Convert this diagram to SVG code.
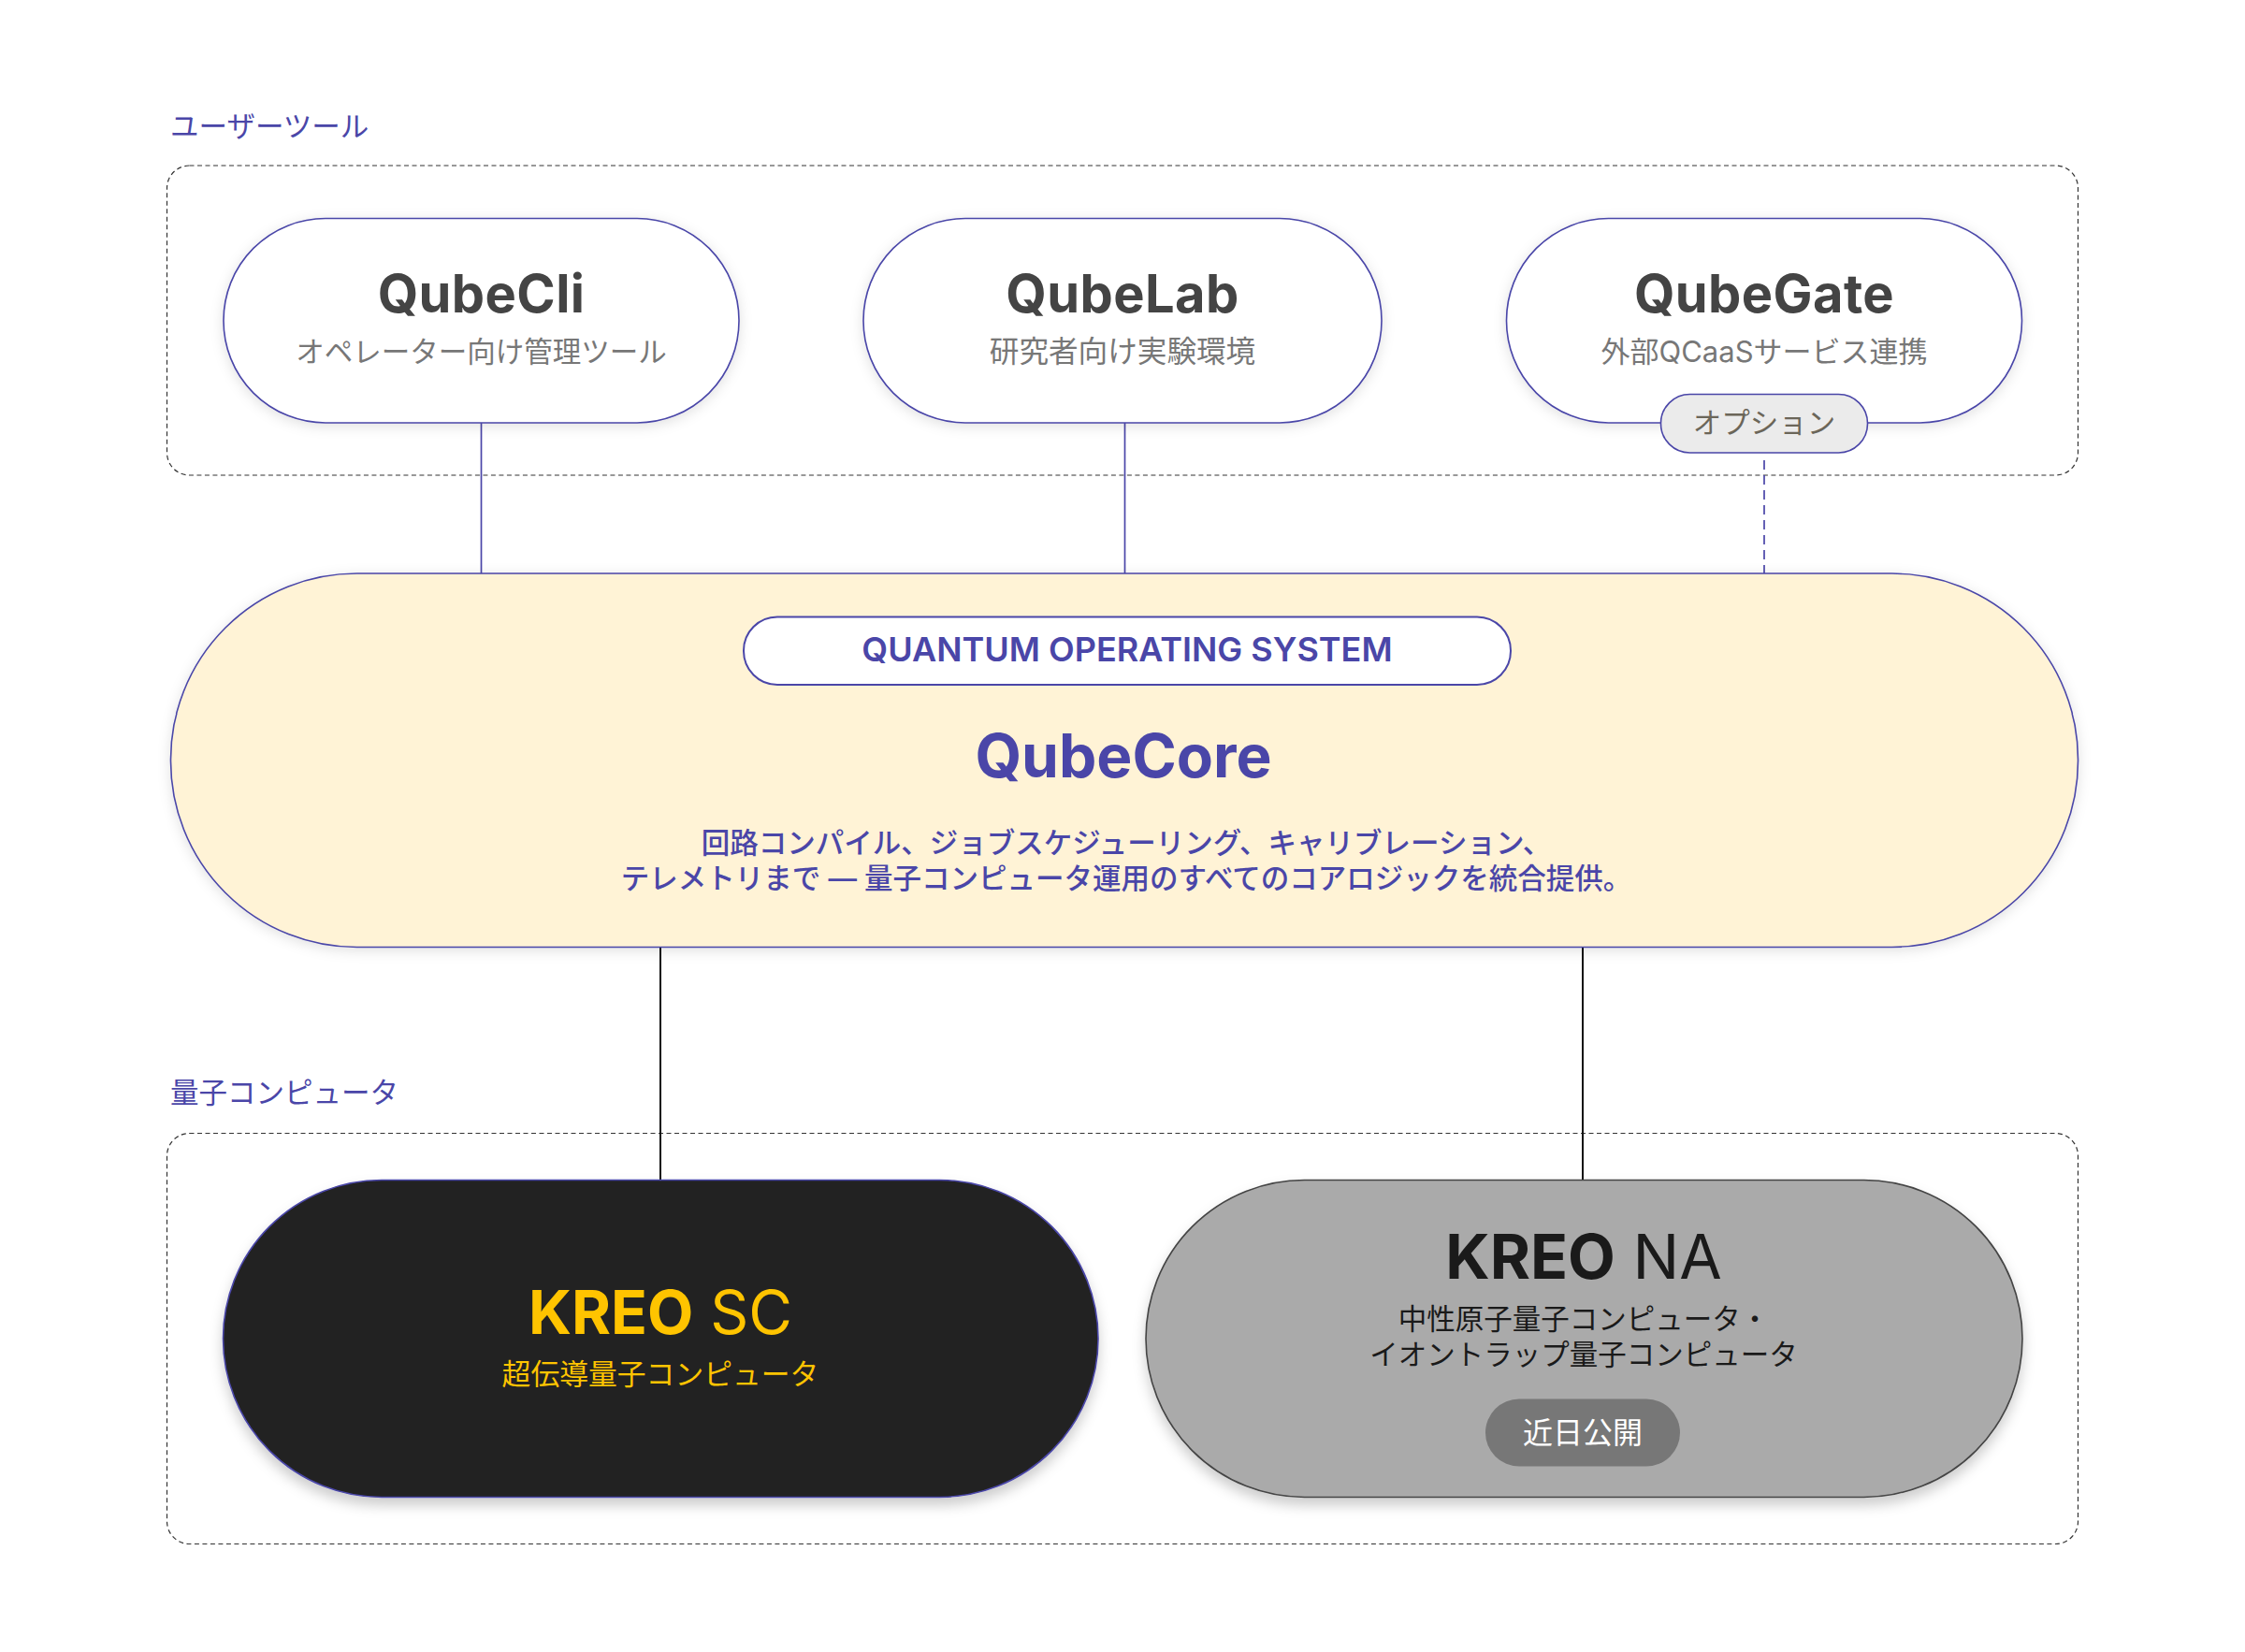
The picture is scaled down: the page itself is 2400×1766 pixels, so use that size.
<svg xmlns="http://www.w3.org/2000/svg" width="2400" height="1766" viewBox="0 0 2400 1766">
<style>
text{font-family:"Inter","Noto Sans CJK JP",sans-serif;text-anchor:middle}
.frame{fill:none;stroke:#333;stroke-width:1.200;stroke-dasharray:5 3.500}
.sec{font-size:30.500px;fill:#4a46a8;text-anchor:start}
.pill{fill:#fff;stroke:#4a46a8;stroke-width:1.600;filter:url(#sh)}
.ttl{font-weight:700;font-size:56px;fill:#444;letter-spacing:.4px}
.sub{font-size:30.500px;fill:#777}
.conn{stroke:#4a46a8;stroke-width:1.700;fill:none}
.dk{stroke:#111;stroke-width:2;fill:none}
.desc{font-size:30.500px;font-weight:500;fill:#4a46a8}
.kr{font-size:64px}
.jp{font-size:30.500px}
</style>
<defs>
<filter id="sh" x="-10%" y="-20%" width="120%" height="140%"><feDropShadow dx="0" dy="3" stdDeviation="7" flood-color="#000" flood-opacity="0.12"/></filter>
<filter id="sh2" x="-10%" y="-20%" width="120%" height="140%"><feDropShadow dx="0" dy="8" stdDeviation="7" flood-color="#000" flood-opacity="0.2"/></filter>
</defs>
<rect width="2400" height="1766" fill="#fff"/>
<g id="frames">
<rect class="frame" x="178.500" y="177" width="2043" height="331" rx="24"/>
<rect class="frame" x="178.500" y="1211.500" width="2043" height="439" rx="24"/>
<text class="sec" x="182" y="146">ユーザーツール</text>
<text class="sec" x="182" y="1178.500">量子コンピュータ</text>
</g>
<g id="connectors">
<path class="conn" d="M514.500 452V613M1202.500 452V613"/>
<path class="conn" stroke-dasharray="10 6" d="M1886 492V613"/>
<path class="dk" d="M706 1012V1261M1692 1012V1261"/>
</g>
<g id="qubecli">
<rect class="pill" x="239" y="233.500" width="551" height="218.500" rx="109"/>
<text class="ttl" x="514.500" y="334">QubeCli</text>
<text class="sub" x="514.500" y="387">オペレーター向け管理ツール</text>
</g>
<g id="qubelab">
<rect class="pill" x="923" y="233.500" width="554" height="218.500" rx="109"/>
<text class="ttl" x="1200" y="334">QubeLab</text>
<text class="sub" x="1200" y="387" style="font-size:31.600px">研究者向け実験環境</text>
</g>
<g id="qubegate">
<rect class="pill" x="1610.500" y="233.500" width="551" height="218.500" rx="109"/>
<text class="ttl" x="1886" y="334">QubeGate</text>
<text class="sub" x="1886" y="387" style="font-size:31px">外部QCaaSサービス連携</text>
</g>
<g id="option">
<rect x="1775.500" y="421.500" width="221" height="62.500" rx="31" fill="#ebebeb" stroke="#4a46a8" stroke-width="1.600"/>
<text class="jp" x="1886" y="463" fill="#6b6659">オプション</text>
</g>
<g id="qubecore">
<rect x="182.500" y="613" width="2039" height="399.500" rx="199" fill="#fff3d6" stroke="#4a46a8" stroke-width="1.600" filter="url(#sh)"/>
<rect x="795" y="659.500" width="820" height="72.500" rx="36" fill="#fff" stroke="#4a46a8" stroke-width="2"/>
<text x="1205" y="707" font-weight="600" font-size="36" fill="#4a46a8">QUANTUM OPERATING SYSTEM</text>
<text x="1201" y="831" font-size="64" font-weight="700" fill="#4a46a8">QubeCore</text>
<text class="desc" x="1204" y="912">回路コンパイル、ジョブスケジューリング、キャリブレーション、</text>
<text class="desc" x="1204" y="950">テレメトリまで — 量子コンピュータ運用のすべてのコアロジックを統合提供。</text>
</g>
<g id="kreo-sc">
<rect x="238.500" y="1261.500" width="935.500" height="339" rx="169.500" fill="#222" stroke="#4a46a8" stroke-width="1.600" filter="url(#sh2)"/>
<text class="kr" x="706" y="1426" fill="#ffc400"><tspan font-weight="700">KREO</tspan><tspan font-weight="400"> SC</tspan></text>
<text class="jp" x="706" y="1479.500" fill="#ffc400" style="font-size:30.800px">超伝導量子コンピュータ</text>
</g>
<g id="kreo-na">
<rect x="1225" y="1261.500" width="937" height="339" rx="169.500" fill="#aaa" stroke="#444" stroke-width="1.600" filter="url(#sh2)"/>
<text class="kr" x="1693" y="1366.500" fill="#1a1a1a" style="font-size:66px"><tspan font-weight="700">KREO</tspan><tspan font-weight="400"> NA</tspan></text>
<text class="jp" x="1693" y="1420.500" fill="#1a1a1a">中性原子量子コンピュータ・</text>
<text class="jp" x="1693" y="1458.500" fill="#1a1a1a">イオントラップ量子コンピュータ</text>
<rect x="1588" y="1495.500" width="208" height="72" rx="36" fill="#777"/>
<text class="jp" x="1692" y="1542.500" fill="#fff" style="font-size:32px">近日公開</text>
</g>
</svg>
